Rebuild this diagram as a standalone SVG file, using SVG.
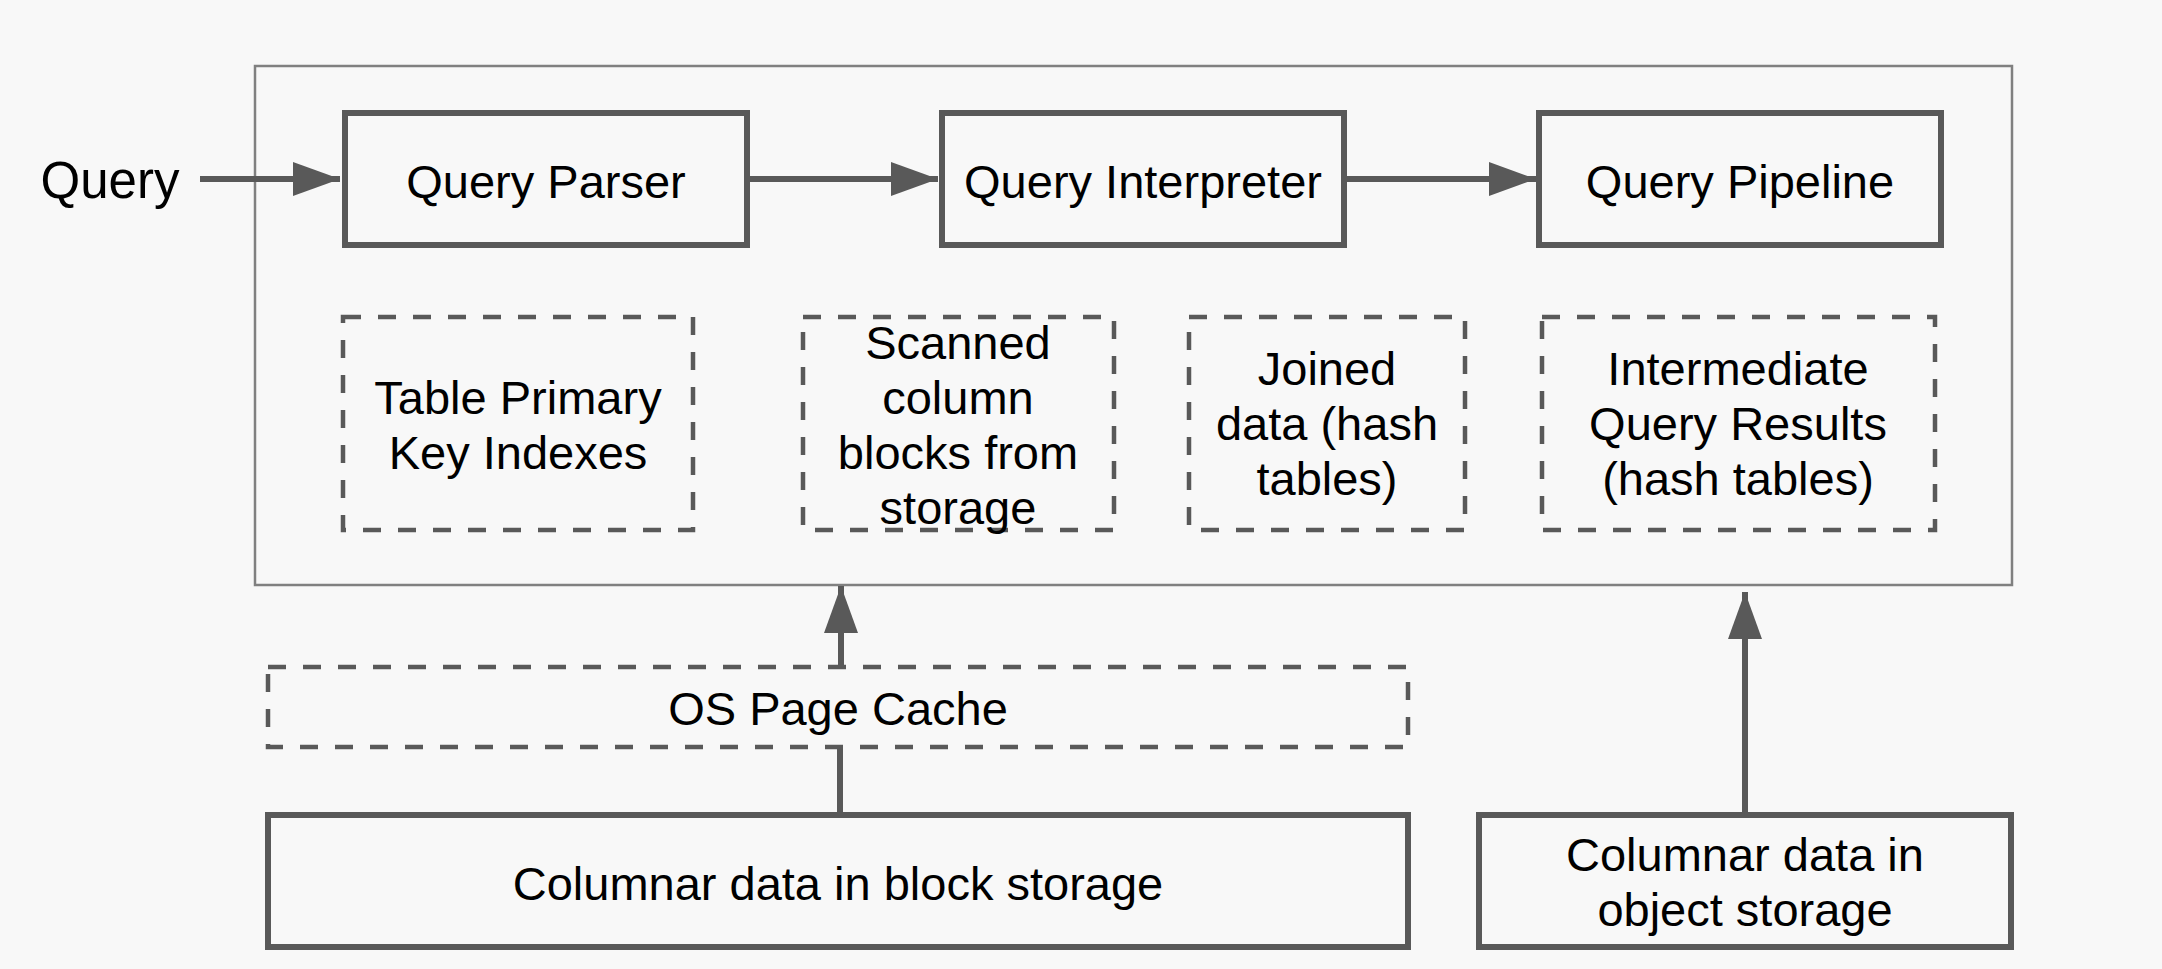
<svg xmlns="http://www.w3.org/2000/svg" width="2162" height="969" viewBox="0 0 2162 969">
<defs>
<style>
.bg{fill:#f8f8f8}
.box{fill:none;stroke:#595959;stroke-width:6}
.dash{fill:none;stroke:#595959;stroke-width:4.5;stroke-dasharray:18 17}
.outer{fill:none;stroke:#808080;stroke-width:2.5}
.conn{fill:none;stroke:#595959;stroke-width:6}
text{font-family:"Liberation Sans",Arial,sans-serif;font-size:47px;fill:#000;text-anchor:middle}
</style>
<marker id="ah" markerUnits="userSpaceOnUse" markerWidth="48" markerHeight="34" refX="47" refY="17" orient="auto">
<path d="M0,0 L47,17 L0,34 z" fill="#595959"/>
</marker>
</defs>
<rect class="bg" x="0" y="0" width="2162" height="969"/>
<g id="container">
<rect class="outer" x="255" y="66" width="1757" height="519"/>
</g>
<g id="query-label">
<text x="110" y="198" style="font-size:51px">Query</text>
</g>
<g id="query-parser">
<rect class="box" x="345" y="113" width="402" height="132"/>
<text x="546" y="198">Query Parser</text>
</g>
<g id="query-interpreter">
<rect class="box" x="942" y="113" width="402" height="132"/>
<text x="1143" y="198">Query Interpreter</text>
</g>
<g id="query-pipeline">
<rect class="box" x="1539" y="113" width="402" height="132"/>
<text x="1740" y="198">Query Pipeline</text>
</g>
<g id="table-pk-indexes">
<rect class="dash" x="343" y="317" width="350" height="213"/>
<text x="518" y="414">Table Primary</text>
<text x="518" y="469">Key Indexes</text>
</g>
<g id="scanned-blocks">
<rect class="dash" x="803" y="317" width="311" height="213"/>
<text x="958" y="359">Scanned</text>
<text x="958" y="414">column</text>
<text x="958" y="469">blocks from</text>
<text x="958" y="524">storage</text>
</g>
<g id="joined-data">
<rect class="dash" x="1189" y="317" width="276" height="213"/>
<text x="1327" y="385">Joined</text>
<text x="1327" y="440">data (hash</text>
<text x="1327" y="495">tables)</text>
</g>
<g id="intermediate-results">
<rect class="dash" x="1542" y="317" width="393" height="213"/>
<text x="1738" y="385">Intermediate</text>
<text x="1738" y="440">Query Results</text>
<text x="1738" y="495">(hash tables)</text>
</g>
<g id="os-page-cache">
<rect class="dash" x="268" y="667" width="1140" height="80"/>
<text x="838" y="725">OS Page Cache</text>
</g>
<g id="block-storage">
<rect class="box" x="268" y="815" width="1140" height="132"/>
<text x="838" y="900">Columnar data in block storage</text>
</g>
<g id="object-storage">
<rect class="box" x="1479" y="815" width="532" height="132"/>
<text x="1745" y="871">Columnar data in</text>
<text x="1745" y="926">object storage</text>
</g>
<g id="connectors">
<line class="conn" x1="200" y1="179" x2="340" y2="179" marker-end="url(#ah)"/>
<line class="conn" x1="748" y1="179" x2="938" y2="179" marker-end="url(#ah)"/>
<line class="conn" x1="1345" y1="179" x2="1536" y2="179" marker-end="url(#ah)"/>
<line class="conn" x1="841" y1="667" x2="841" y2="586" marker-end="url(#ah)"/>
<line class="conn" x1="840" y1="747" x2="840" y2="813"/>
<line class="conn" x1="1745" y1="813" x2="1745" y2="592" marker-end="url(#ah)"/>
</g>
</svg>
